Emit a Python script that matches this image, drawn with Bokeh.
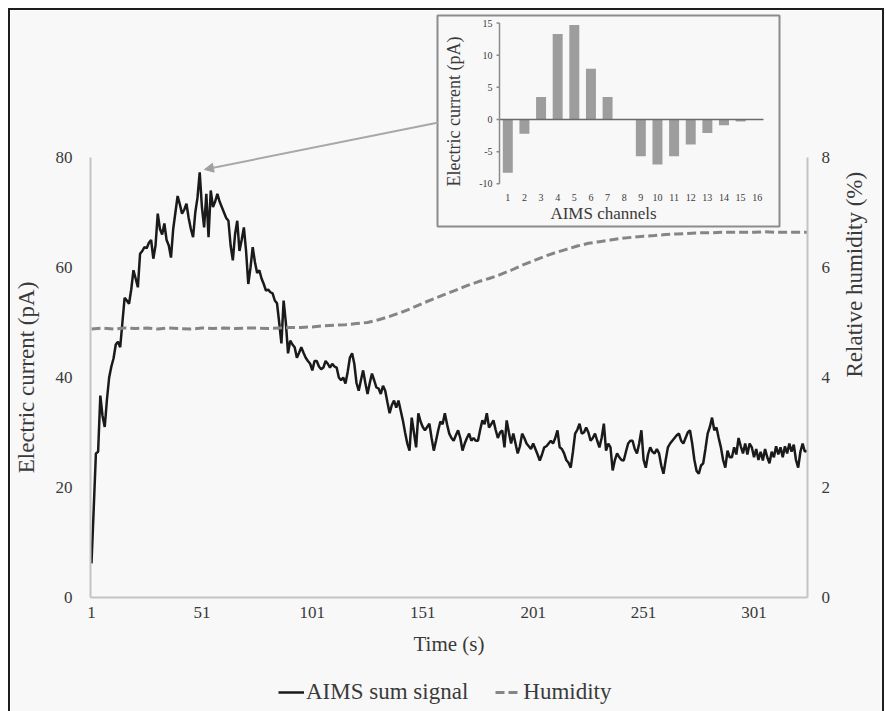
import math
from bokeh.plotting import figure
from bokeh.models import (Range1d, LinearAxis, FixedTicker, Legend, LegendItem,
                          Arrow, NormalHead)
from bokeh.layouts import column
from bokeh.core.properties import value
from bokeh.embed import file_html
from bokeh.resources import INLINE

# ---------------- data ----------------
current = [
    6.2, 16, 26.2, 26.5, 36.7, 33, 31, 36, 40, 42,
    43.5, 46, 46.5, 45.5, 50, 54.5, 54, 53.4, 56, 59.5,
    58, 56.4, 62.5, 63, 63.7, 63.5, 64.5, 65, 61.6, 64,
    69.8, 67, 66, 68, 65, 64, 61.8, 67, 70, 73,
    71.5, 69.8, 70.5, 71.6, 69, 67, 65.5, 70, 72.7, 77.3,
    71, 67.3, 73.4, 65.5, 74, 71, 72, 73.4, 72, 71,
    70, 69, 68.5, 64, 61.3, 66, 68.5, 63, 65, 67.3,
    63, 57, 60, 63.7, 61, 59, 59.5, 58, 57, 55.8,
    56, 55.5, 55.3, 54, 53.5, 50, 46.2, 54, 50, 44.4,
    46.7, 46, 45.5, 43.6, 44.5, 45.5, 44.5, 43.6, 43, 42.5,
    41.3, 43, 43, 42, 41.5, 41.8, 43, 42.5, 41.8, 42.5,
    42, 41.8, 40, 39.5, 40, 38.9, 41, 43.6, 44.4, 42.5,
    39, 37.6, 39.5, 41.3, 39, 37, 39, 40.7, 39.5, 38.2,
    38, 37, 38.5, 37.6, 35.5, 33.5, 35, 35.8, 34.5, 35.8,
    34, 32.2, 30, 28, 26.7, 32.7, 30, 27.3, 33.5, 32,
    31, 30.4, 31, 31.6, 29, 26.7, 28.5, 30.4, 32, 31.5,
    33.5, 31.5, 29.8, 29, 28.5, 29.5, 30.4, 29, 26.7, 28,
    29, 29.8, 28.5, 29, 28.5, 28.5, 30.5, 32.2, 31.5, 33.5,
    30.9, 31.5, 32.2, 30.5, 29, 30, 30.4, 27.3, 32.2, 30,
    28, 29.8, 28, 26.2, 27.5, 29.8, 29, 28, 27.5, 27,
    28, 27, 26, 24.9, 26, 27.3, 27.5, 28, 28.5, 28,
    29, 30.4, 27.3, 27, 26.2, 25, 24.5, 23.6, 26.5, 29.8,
    30.5, 31.6, 29.8, 30, 30.9, 30, 28.5, 29, 29.8, 28.5,
    27.3, 29, 31.6, 26.7, 28, 27.3, 23.1, 25, 26.2, 25.5,
    25, 24.9, 26.5, 28, 28.5, 28.5, 27, 26.2, 28, 30.4,
    25, 23.6, 26, 27.3, 26.5, 26.2, 27, 26.2, 24, 22.5,
    25, 27.3, 28, 28.5, 29, 29.5, 29.8, 28.5, 28, 29,
    30, 30.4, 28, 25, 23, 22.5, 24, 24.4, 27, 29.8,
    31, 32.7, 30.4, 30.9, 29, 27.3, 25, 23.6, 26.7, 25.5,
    25.5, 27.3, 26, 29, 27.5, 26.2, 28, 26, 28, 27.3,
    25.5, 27, 25, 26.5, 24.9, 27, 25.5, 24.4, 26.5, 25.5,
    27.5, 26, 27.3, 25.5, 27.5, 26.2, 28, 26.5, 27.8, 25,
    23.6, 26.5, 28, 26.5, 26.7,
]
time_s = list(range(1, len(current) + 1))

hum_time = list(range(1, 322, 5)) + [325]
humidity = [
    4.88, 4.90, 4.88, 4.90, 4.89, 4.90, 4.88, 4.90, 4.89, 4.88,
    4.90, 4.89, 4.90, 4.89, 4.90, 4.90, 4.89, 4.90, 4.91, 4.91,
    4.92, 4.94, 4.95, 4.96, 4.98, 5.00, 5.05, 5.11, 5.18, 5.26,
    5.35, 5.43, 5.51, 5.59, 5.67, 5.74, 5.80, 5.87, 5.95, 6.04,
    6.12, 6.20, 6.27, 6.33, 6.39, 6.44, 6.47, 6.50, 6.53, 6.55,
    6.57, 6.58, 6.60, 6.61, 6.62, 6.63, 6.63, 6.64, 6.64, 6.64,
    6.64, 6.65, 6.64, 6.64, 6.64, 6.64,
]

channels = list(range(1, 17))
channel_current = [-8.3, -2.2, 3.5, 13.3, 14.7, 7.9, 3.5, 0.0,
                   -5.7, -7.0, -5.7, -3.9, -2.1, -0.9, -0.3, 0.0]
channel_labels = [str(c) for c in channels]

x_ticks = [1, 51, 101, 151, 201, 251, 301]
y_ticks = [0, 20, 40, 60, 80]
rh_ticks = [0, 2, 4, 6, 8]
inset_y_ticks = [-10, -5, 0, 5, 10, 15]
inset_y_labels = [str(v) for v in inset_y_ticks]

# ---------------- layout constants (page pixels) ----------------
W, H = 886, 711
PAD = 10                                           # outer frame offset
FIG_R = 882                                        # right edge of the figures
FR_L, FR_R, FR_T, FR_B = 88, 812, 157, 597         # main plot frame
X0_PX, X_PER = 89, 669 / 300                       # t=1 position, px per second
Y0_PX, Y_PER = 597, 440 / 80                       # 0 pA position, px per pA
C1_PX, C_PER = 507.3, 16.63                        # inset channel 1, px per channel
V0_PY, V_PER = 119, 6.43                           # inset 0 pA, px per pA
OV_T, OV_B = 12, 229                               # overlay strip (inset + arrow)
LG_T, LG_B = 672, 711                              # legend strip


def mx(px):
    return 1 + (px - X0_PX) / X_PER


def my(py):
    return (Y0_PX - py) / Y_PER


def ix(px):
    return 1 + (px - C1_PX) / C_PER


def iy(py):
    return (V0_PY - py) / V_PER


FONT = "Liberation Serif"
TXT = "#3a3a3a"
BG = "#f8f8f8"
AX = "#c4c4c4"
LINE_MAIN = dict(line_color="#1a1a1a", line_width=2.5)
LINE_HUM = dict(line_color="#858585", line_width=3, line_dash="9 4")


def no_align(fig):
    if "frame_align" in fig.properties():
        fig.frame_align = False


# ---------------- main chart ----------------
p = figure(width=FIG_R - PAD, height=H - PAD, output_backend="svg", toolbar_location=None,
           x_range=Range1d(mx(FR_L), mx(FR_R)), y_range=Range1d(0, 80),
           min_border_left=FR_L - PAD, min_border_right=FIG_R - FR_R,
           min_border_top=FR_T - PAD, min_border_bottom=H - FR_B,
           background_fill_color=BG, border_fill_color=BG, outline_line_color=None,
           margin=(PAD, 0, 0, PAD),
           styles={"outline": "2px solid #1e1e1e"})
no_align(p)
p.grid.visible = False
p.extra_y_ranges = {"rh": Range1d(0, 8)}

p.line(time_s, current, **LINE_MAIN)
p.line(hum_time, humidity, y_range_name="rh", **LINE_HUM)

right_axis = LinearAxis(y_range_name="rh")
p.add_layout(right_axis, "right")

for ax in [p.xaxis[0], p.yaxis[0], right_axis]:
    ax.axis_line_color = AX
    ax.axis_line_width = 2
    ax.major_tick_line_color = None
    ax.minor_tick_line_color = None
    ax.major_tick_out = 0
    ax.major_tick_in = 0
    ax.major_label_text_font = FONT
    ax.major_label_text_font_size = "17px"
    ax.major_label_text_color = TXT
    ax.axis_label_text_font = FONT
    ax.axis_label_text_font_style = "normal"
    ax.axis_label_text_color = TXT

p.xaxis[0].ticker = FixedTicker(ticks=x_ticks)
p.xaxis[0].axis_label = "Time (s)"
p.xaxis[0].axis_label_text_font_size = "21px"
p.xaxis[0].major_label_standoff = 9
p.xaxis[0].axis_label_standoff = 11

p.yaxis[0].ticker = FixedTicker(ticks=y_ticks)
p.yaxis[0].axis_label = "Electric current (pA)"
p.yaxis[0].axis_label_text_font_size = "23px"
p.yaxis[0].major_label_standoff = 18
p.yaxis[0].axis_label_standoff = 14

right_axis.ticker = FixedTicker(ticks=rh_ticks)
right_axis.axis_label = "Relative humidity (%)"
right_axis.axis_label_text_font_size = "23px"
right_axis.major_label_standoff = 14
right_axis.axis_label_standoff = 21
if "axis_label_orientation" in right_axis.properties():
    right_axis.axis_label_orientation = math.pi / 2


def strip(top, bottom, x_range, y_range):
    """Transparent figure laid over the main chart, same horizontal frame."""
    f = figure(width=FIG_R - PAD, height=bottom - top, output_backend="svg",
               toolbar_location=None, x_range=x_range, y_range=y_range,
               min_border_left=FR_L - PAD, min_border_right=FIG_R - FR_R,
               min_border_top=0, min_border_bottom=0,
               x_axis_location=None, y_axis_location=None,
               background_fill_alpha=0, border_fill_alpha=0, outline_line_color=None)
    no_align(f)
    f.grid.visible = False
    return f


# ---------------- overlay: inset bar chart + arrow ----------------
ov = strip(OV_T, OV_B, Range1d(ix(FR_L), ix(FR_R)), Range1d(iy(OV_B), iy(OV_T)))
ov.margin = (OV_T - H, 0, 0, PAD)

ov.add_layout(Arrow(end=NormalHead(size=9, fill_color="#a0a0a0", line_color="#a0a0a0"),
                    x_start=ix(438), y_start=iy(122), x_end=ix(204), y_end=iy(169),
                    line_color="#a8a8a8", line_width=2))

ov.quad(left=[ix(437)], right=[ix(779)], top=[iy(15)], bottom=[iy(226)],
        fill_color=BG, line_color="#8c8c8c", line_width=2)
ov.vbar(x=channels, top=channel_current, bottom=0, width=0.6,
        fill_color="#9d9d9d", line_color=None)
ax0 = ix(499)
ax1 = ix(763)
ov.segment(x0=[ax0], y0=[0], x1=[ax1], y1=[0], line_color="#6a6a6a", line_width=1.5)
ov.segment(x0=[ax0], y0=[inset_y_ticks[0]], x1=[ax0], y1=[inset_y_ticks[-1]],
           line_color="#8a8a8a", line_width=1.5)
ov.segment(x0=[ax0 - 3 / C_PER] * len(inset_y_ticks), y0=inset_y_ticks,
           x1=[ax0] * len(inset_y_ticks), y1=inset_y_ticks,
           line_color="#8a8a8a", line_width=1.5)
ov.text(x=[ax0 - 7 / C_PER] * len(inset_y_ticks), y=inset_y_ticks, text=inset_y_labels,
        text_align="right", text_baseline="middle", text_font=value(FONT),
        text_font_size="10px", text_color=TXT)
ov.text(x=channels, y=[iy(197)] * len(channels), text=channel_labels,
        text_align="center", text_baseline="middle", text_font=value(FONT),
        text_font_size="10px", text_color=TXT)
ov.text(x=[ix(603)], y=[iy(213)], text=["AIMS channels"],
        text_align="center", text_baseline="middle", text_font=value(FONT),
        text_font_size="17px", text_color=TXT)
ov.text(x=[ix(453)], y=[iy(111)], text=["Electric current (pA)"], angle=math.pi / 2,
        text_align="center", text_baseline="middle", text_font=value(FONT),
        text_font_size="18px", text_color=TXT)

# ---------------- legend strip ----------------
lg = strip(LG_T, LG_B, Range1d(0, 1), Range1d(0, 1))
lg.margin = (LG_T - OV_B, 0, 0, PAD)
# legend swatches: renderers kept outside the strip's visible range
s1 = lg.line(x=[-3, -2], y=[-3, -3], **LINE_MAIN)
s2 = lg.line(x=[-3, -2], y=[-3, -3], **LINE_HUM)
legend = Legend(items=[LegendItem(label="AIMS sum signal", renderers=[s1]),
                       LegendItem(label="Humidity", renderers=[s2])],
                orientation="horizontal", location=(190, 6),
                background_fill_alpha=0, border_line_color=None,
                label_text_font=FONT, label_text_font_size="23px",
                label_text_color=TXT, glyph_width=26, glyph_height=20,
                label_standoff=2, spacing=27, padding=0, margin=0)
lg.add_layout(legend)

layout = column(p, ov, lg)

open("out.html", "w").write(file_html(layout, INLINE))
